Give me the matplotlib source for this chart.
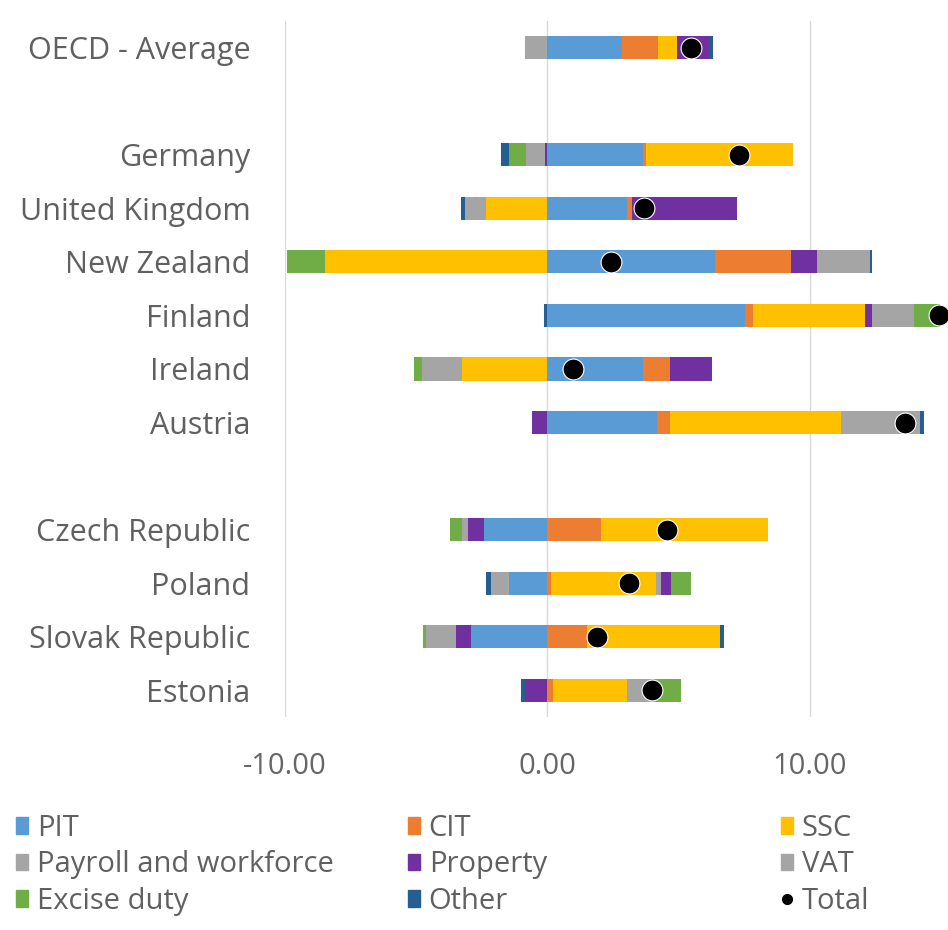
import numpy as np
import matplotlib
matplotlib.use("Agg")
import matplotlib.pyplot as plt
from matplotlib.lines import Line2D
from matplotlib.patches import Patch

plt.rcParams['font.family'] = ['Open Sans', 'DejaVu Sans']

countries = ["OECD - Average", "Germany", "United Kingdom", "New Zealand", "Finland",
             "Ireland", "Austria", "Czech Republic", "Poland", "Slovak Republic", "Estonia"]

# contributions by tax type
pit      = [2.85, 3.65, 3.02, 6.39, 7.51, 3.64, 4.17, -2.40, -1.47, -2.93, 0.00]
cit      = [1.35, 0.10, 0.20, 2.89, 0.32, 1.04, 0.50,  2.05,  0.15,  1.51, 0.22]
ssc      = [0.75, 5.59, -2.36, -8.46, 4.28, -3.25, 6.50, 6.35, 3.98,  5.07, 2.80]
payroll  = [-0.85, 0.00, -0.78, 0.00, 0.00, -1.54, 0.00, 0.00, 0.19,  0.00, 0.00]
property_ = [1.20, -0.10, 3.99, 0.99, 0.25, 1.58, -0.60, -0.61, 0.38, -0.57, -0.85]
vat      = [0.00, -0.72, 0.00, 2.02, 1.60, 0.00, 3.03, -0.24, -0.67, -1.14, 1.04]
excise   = [0.00, -0.65, 0.00, -1.46, 1.00, -0.31, 0.00, -0.48, 0.78, -0.12, 1.03]
other    = [0.15, -0.30, -0.17, 0.08, -0.15, 0.00, 0.13, 0.00, -0.19,  0.13, -0.15]
total    = [5.45, 7.30, 3.69, 2.43, 14.90, 0.98, 13.64, 4.55, 3.09, 1.89, 4.00]

series = [("PIT", pit, "#5B9BD5"),
          ("CIT", cit, "#ED7D31"),
          ("SSC", ssc, "#FFC000"),
          ("Payroll and workforce", payroll, "#A5A5A5"),
          ("Property", property_, "#7030A0"),
          ("VAT", vat, "#A5A5A5"),
          ("Excise duty", excise, "#70AD47"),
          ("Other", other, "#255E91")]

# rows of the category axis, with blank rows between the groups
slots = np.array([0, 2, 3, 4, 5, 6, 7, 9, 10, 11, 12])

fig = plt.figure(figsize=(9.48, 9.30), dpi=100)
ax = fig.add_axes([285 / 948, 1 - 717 / 930, 1 - 285 / 948, 696 / 930])

pos_base = np.zeros(len(countries))
neg_base = np.zeros(len(countries))
for name, vals, col in series:
    v = np.array(vals)
    left = np.where(v >= 0, pos_base, neg_base)
    ax.barh(slots, v, left=left, height=0.43, color=col, zorder=2)
    pos_base += np.where(v >= 0, v, 0)
    neg_base += np.where(v < 0, v, 0)

ax.plot(total, slots, 'o', color='black', markersize=15,
        markeredgecolor='white', markeredgewidth=0.8, zorder=3)

ax.set_xlim(-10, 15.26)
ax.set_ylim(12.5, -0.5)
ax.set_xticks([-10, 0, 10])
ax.set_xticklabels(["-10.00", "0.00", "10.00"])
ax.set_yticks(slots)
ax.set_yticklabels(countries)
ax.tick_params(axis='x', length=0, pad=25, labelsize=21, labelcolor='#666666')
ax.tick_params(axis='y', length=0, pad=25, labelsize=22, labelcolor='#606060')
ax.grid(axis='x', color='#D9D9D9', linewidth=1, zorder=0)
ax.set_axisbelow(True)
for s in ax.spines.values():
    s.set_visible(False)

# legend, three columns like the original
cols = [[0, 3, 6], [1, 4, 7], [2, 5, None]]
xs = [4 / 948, 396 / 948, 769 / 948]
for xi, idx in zip(xs, cols):
    handles = []
    for i in idx:
        if i is None:
            handles.append(Line2D([], [], marker='o', color='black', linestyle='none',
                                  markersize=7, label="Total"))
        else:
            name, _, col = series[i]
            handles.append(Patch(color=col, label=name))
    fig.legend(handles=handles, loc='upper left', bbox_to_anchor=(xi, 1 - 802 / 930),
               frameon=False, fontsize=21, labelcolor='#606060', handlelength=0.42,
               handleheight=0.5, handletextpad=0.3, labelspacing=0.26, borderaxespad=0)

fig.savefig("out.png", dpi=100)
